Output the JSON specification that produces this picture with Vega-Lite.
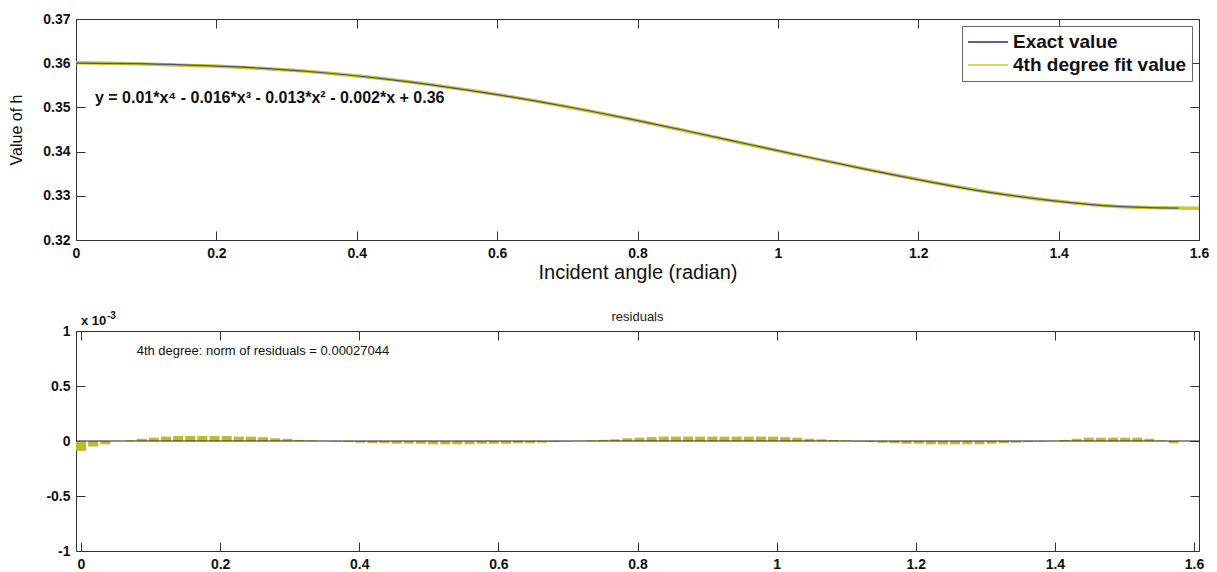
{
  "$schema": "https://vega.github.io/schema/vega-lite/v6.json",
  "background": "white",
  "padding": {"left": 8, "top": 11, "right": 5, "bottom": 5},
  "spacing": 27,
  "config": {
    "font": "Liberation Sans",
    "view": {"stroke": "#333333", "strokeWidth": 1},
    "axis": {
      "domain": false,
      "grid": false,
      "tickColor": "#333333",
      "tickWidth": 1,
      "tickSize": -9,
      "labelPadding": 15,
      "labelFont": "Liberation Sans",
      "labelFontSize": 14,
      "labelFontWeight": "bold",
      "labelColor": "#111111",
      "labelFlush": false,
      "titleFont": "Liberation Sans",
      "titleFontWeight": "normal",
      "titleColor": "#111111"
    },
    "legend": {
      "orient": "top-right",
      "offset": 7,
      "strokeColor": "#666666",
      "fillColor": "white",
      "padding": 5,
      "labelFont": "Liberation Sans",
      "labelFontSize": 19,
      "labelFontWeight": "bold",
      "labelColor": "#111111",
      "labelOffset": 4,
      "labelLimit": 400,
      "symbolType": "stroke",
      "symbolSize": 1600,
      "symbolStrokeWidth": 2,
      "clipHeight": 22,
      "rowPadding": 1
    }
  },
  "datasets": {
    "exact": [
      {"angle": 0.0, "h": 0.3600},
      {"angle": 0.0873, "h": 0.3599},
      {"angle": 0.1745, "h": 0.3595},
      {"angle": 0.2618, "h": 0.3589},
      {"angle": 0.3491, "h": 0.3579},
      {"angle": 0.4363, "h": 0.3565},
      {"angle": 0.5236, "h": 0.3547},
      {"angle": 0.6109, "h": 0.3526},
      {"angle": 0.6981, "h": 0.3502},
      {"angle": 0.7854, "h": 0.3475},
      {"angle": 0.8727, "h": 0.3446},
      {"angle": 0.9599, "h": 0.3416},
      {"angle": 1.0472, "h": 0.3386},
      {"angle": 1.1345, "h": 0.3357},
      {"angle": 1.2217, "h": 0.3330},
      {"angle": 1.3090, "h": 0.3306},
      {"angle": 1.3963, "h": 0.3288},
      {"angle": 1.4835, "h": 0.3276},
      {"angle": 1.5708, "h": 0.3272}
    ],
    "fit": [
      {"angle": 0.0, "h": 0.36009},
      {"angle": 0.0873, "h": 0.35988},
      {"angle": 0.1745, "h": 0.35945},
      {"angle": 0.2618, "h": 0.35886},
      {"angle": 0.3491, "h": 0.3579},
      {"angle": 0.4363, "h": 0.35652},
      {"angle": 0.5236, "h": 0.35473},
      {"angle": 0.6109, "h": 0.35263},
      {"angle": 0.6981, "h": 0.35021},
      {"angle": 0.7854, "h": 0.34748},
      {"angle": 0.8727, "h": 0.34456},
      {"angle": 0.9599, "h": 0.34156},
      {"angle": 1.0472, "h": 0.33858},
      {"angle": 1.1345, "h": 0.33571},
      {"angle": 1.2217, "h": 0.33303},
      {"angle": 1.3090, "h": 0.33063},
      {"angle": 1.3963, "h": 0.3288},
      {"angle": 1.4835, "h": 0.32757},
      {"angle": 1.5708, "h": 0.32722},
      {"angle": 1.6, "h": 0.3272}
    ],
    "residuals": [
      {"angle": 0.0, "r": -0.00009},
      {"angle": 0.0175, "r": -0.00005},
      {"angle": 0.0349, "r": -0.00003},
      {"angle": 0.0524, "r": 0.0},
      {"angle": 0.0698, "r": 0.000005},
      {"angle": 0.0873, "r": 0.00002},
      {"angle": 0.1047, "r": 0.00003},
      {"angle": 0.1222, "r": 0.00004},
      {"angle": 0.1396, "r": 0.000045},
      {"angle": 0.1571, "r": 0.000045},
      {"angle": 0.1745, "r": 0.000045},
      {"angle": 0.1920, "r": 0.000045},
      {"angle": 0.2094, "r": 0.000045},
      {"angle": 0.2269, "r": 0.00004},
      {"angle": 0.2443, "r": 0.00004},
      {"angle": 0.2618, "r": 0.000035},
      {"angle": 0.2793, "r": 0.000025},
      {"angle": 0.2967, "r": 0.00002},
      {"angle": 0.3142, "r": 0.00001},
      {"angle": 0.3316, "r": 0.000005},
      {"angle": 0.3491, "r": 0.0},
      {"angle": 0.3665, "r": -0.000005},
      {"angle": 0.3840, "r": -0.00001},
      {"angle": 0.4014, "r": -0.000015},
      {"angle": 0.4189, "r": -0.00002},
      {"angle": 0.4363, "r": -0.00002},
      {"angle": 0.4538, "r": -0.000025},
      {"angle": 0.4712, "r": -0.000025},
      {"angle": 0.4887, "r": -0.000025},
      {"angle": 0.5061, "r": -0.00003},
      {"angle": 0.5236, "r": -0.00003},
      {"angle": 0.5411, "r": -0.00003},
      {"angle": 0.5585, "r": -0.00003},
      {"angle": 0.5760, "r": -0.000025},
      {"angle": 0.5934, "r": -0.000025},
      {"angle": 0.6109, "r": -0.000025},
      {"angle": 0.6283, "r": -0.00002},
      {"angle": 0.6458, "r": -0.00002},
      {"angle": 0.6632, "r": -0.000015},
      {"angle": 0.6807, "r": -0.00001},
      {"angle": 0.6981, "r": -0.000005},
      {"angle": 0.7156, "r": 0.0},
      {"angle": 0.7330, "r": 0.000005},
      {"angle": 0.7505, "r": 0.00001},
      {"angle": 0.7679, "r": 0.000015},
      {"angle": 0.7854, "r": 0.000025},
      {"angle": 0.8029, "r": 0.00003},
      {"angle": 0.8203, "r": 0.000035},
      {"angle": 0.8378, "r": 0.00004},
      {"angle": 0.8552, "r": 0.00004},
      {"angle": 0.8727, "r": 0.00004},
      {"angle": 0.8901, "r": 0.00004},
      {"angle": 0.9076, "r": 0.00004},
      {"angle": 0.9250, "r": 0.00004},
      {"angle": 0.9425, "r": 0.00004},
      {"angle": 0.9599, "r": 0.00004},
      {"angle": 0.9774, "r": 0.00004},
      {"angle": 0.9948, "r": 0.00004},
      {"angle": 1.0123, "r": 0.000035},
      {"angle": 1.0297, "r": 0.00003},
      {"angle": 1.0472, "r": 0.00002},
      {"angle": 1.0647, "r": 0.000015},
      {"angle": 1.0821, "r": 0.00001},
      {"angle": 1.0996, "r": 0.000005},
      {"angle": 1.1170, "r": -0.000005},
      {"angle": 1.1345, "r": -0.00001},
      {"angle": 1.1519, "r": -0.000015},
      {"angle": 1.1694, "r": -0.00002},
      {"angle": 1.1868, "r": -0.000025},
      {"angle": 1.2043, "r": -0.000025},
      {"angle": 1.2217, "r": -0.00003},
      {"angle": 1.2392, "r": -0.00003},
      {"angle": 1.2566, "r": -0.00003},
      {"angle": 1.2741, "r": -0.00003},
      {"angle": 1.2915, "r": -0.00003},
      {"angle": 1.3090, "r": -0.000025},
      {"angle": 1.3265, "r": -0.00002},
      {"angle": 1.3439, "r": -0.000015},
      {"angle": 1.3614, "r": -0.00001},
      {"angle": 1.3788, "r": -0.000005},
      {"angle": 1.3963, "r": 0.0},
      {"angle": 1.4137, "r": 0.00001},
      {"angle": 1.4312, "r": 0.00002},
      {"angle": 1.4486, "r": 0.00003},
      {"angle": 1.4661, "r": 0.00003},
      {"angle": 1.4835, "r": 0.00003},
      {"angle": 1.5010, "r": 0.00003},
      {"angle": 1.5184, "r": 0.00003},
      {"angle": 1.5359, "r": 0.00002},
      {"angle": 1.5533, "r": 0.000005},
      {"angle": 1.5708, "r": -0.00002}
    ],
    "fit_label": [
      {"angle": 0.027, "h": 0.3521, "label": "y = 0.01*x⁴ - 0.016*x³ - 0.013*x² - 0.002*x + 0.36"}
    ],
    "norm_label": [
      {"angle": 0.08, "r": 0.00082, "label": "4th degree: norm of residuals = 0.00027044"}
    ],
    "scale_label": [
      {"angle": 0, "r": 0.001, "base": "x 10", "exponent": "-3"}
    ],
    "zero_line": [
      {"r": 0}
    ]
  },
  "vconcat": [
    {
      "width": 1123,
      "height": 221,
      "layer": [
        {
          "data": {"name": "fit"},
          "mark": {"type": "line", "strokeWidth": 3.5, "interpolate": "monotone", "clip": true},
          "encoding": {
            "x": {
              "field": "angle", "type": "quantitative",
              "scale": {"domain": [0, 1.6], "nice": false, "zero": false},
              "axis": {"orient": "bottom", "values": [0, 0.2, 0.4, 0.6, 0.8, 1, 1.2, 1.4, 1.6], "format": "~g", "title": "Incident angle (radian)", "titleFontSize": 20, "titlePadding": 2}
            },
            "y": {
              "field": "h", "type": "quantitative",
              "scale": {"domain": [0.32, 0.37], "nice": false, "zero": false},
              "axis": {"orient": "left", "values": [0.32, 0.33, 0.34, 0.35, 0.36, 0.37], "format": ".2f", "title": "Value of h", "titleFontSize": 16, "titlePadding": 18}
            },
            "color": {
              "datum": "4th degree fit value",
              "scale": {"domain": ["Exact value", "4th degree fit value"], "range": ["#1c1c8c", "#c8c832"]},
              "legend": {"title": null}
            }
          }
        },
        {
          "data": {"name": "exact"},
          "mark": {"type": "line", "strokeWidth": 1.2, "opacity": 0.7, "interpolate": "monotone", "clip": true},
          "encoding": {
            "x": {
              "field": "angle", "type": "quantitative",
              "axis": {"orient": "top", "values": [0, 0.2, 0.4, 0.6, 0.8, 1, 1.2, 1.4, 1.6], "labels": false, "title": null}
            },
            "y": {
              "field": "h", "type": "quantitative",
              "axis": {"orient": "right", "values": [0.32, 0.33, 0.34, 0.35, 0.36, 0.37], "labels": false, "title": null}
            },
            "color": {"datum": "Exact value"}
          }
        },
        {
          "data": {"name": "fit_label"},
          "mark": {"type": "text", "align": "left", "baseline": "middle", "fontSize": 16, "fontWeight": "bold", "color": "#111111"},
          "encoding": {
            "x": {"field": "angle", "type": "quantitative", "axis": null},
            "y": {"field": "h", "type": "quantitative", "axis": null},
            "text": {"field": "label"}
          }
        }
      ],
      "resolve": {"axis": {"x": "independent", "y": "independent"}}
    },
    {
      "width": 1123,
      "height": 220,
      "title": {"text": "residuals", "fontSize": 13, "fontWeight": "normal", "color": "#222222", "offset": -13, "frame": "group", "anchor": "middle"},
      "layer": [
        {
          "data": {"name": "residuals"},
          "mark": {"type": "bar", "width": 10, "color": "#bcbc2a", "clip": true},
          "encoding": {
            "x": {
              "field": "angle", "type": "quantitative",
              "scale": {"domain": [0, 1.6], "nice": false, "zero": false},
              "axis": {"orient": "bottom", "values": [0, 0.2, 0.4, 0.6, 0.8, 1, 1.2, 1.4, 1.6], "format": "~g", "title": null}
            },
            "y": {
              "field": "r", "type": "quantitative",
              "scale": {"domain": [-0.001, 0.001], "nice": false},
              "axis": {"orient": "left", "values": [-0.001, -0.0005, 0, 0.0005, 0.001], "labelExpr": "replace(format(datum.value * 1000, '~g'), '−', '-')", "title": null}
            }
          }
        },
        {
          "data": {"name": "zero_line"},
          "mark": {"type": "rule", "color": "#222222", "strokeWidth": 1},
          "encoding": {
            "y": {
              "field": "r", "type": "quantitative",
              "axis": {"orient": "right", "values": [-0.001, -0.0005, 0, 0.0005, 0.001], "labels": false, "title": null}
            }
          }
        },
        {
          "data": {"name": "norm_label"},
          "mark": {"type": "text", "align": "left", "baseline": "middle", "fontSize": 13, "color": "#111111"},
          "encoding": {
            "x": {
              "field": "angle", "type": "quantitative",
              "axis": {"orient": "top", "values": [0, 0.2, 0.4, 0.6, 0.8, 1, 1.2, 1.4, 1.6], "labels": false, "title": null}
            },
            "y": {"field": "r", "type": "quantitative", "axis": null},
            "text": {"field": "label"}
          }
        },
        {
          "data": {"name": "scale_label"},
          "mark": {"type": "text", "align": "left", "baseline": "bottom", "dy": -3, "fontSize": 13, "fontWeight": "bold", "color": "#111111"},
          "encoding": {
            "x": {"field": "angle", "type": "quantitative", "axis": null},
            "y": {"field": "r", "type": "quantitative", "axis": null},
            "text": {"field": "base"}
          }
        },
        {
          "data": {"name": "scale_label"},
          "mark": {"type": "text", "align": "left", "baseline": "bottom", "dx": 26, "dy": -10, "fontSize": 10, "fontWeight": "bold", "color": "#111111"},
          "encoding": {
            "x": {"field": "angle", "type": "quantitative", "axis": null},
            "y": {"field": "r", "type": "quantitative", "axis": null},
            "text": {"field": "exponent"}
          }
        }
      ],
      "resolve": {"axis": {"x": "independent", "y": "independent"}}
    }
  ]
}
